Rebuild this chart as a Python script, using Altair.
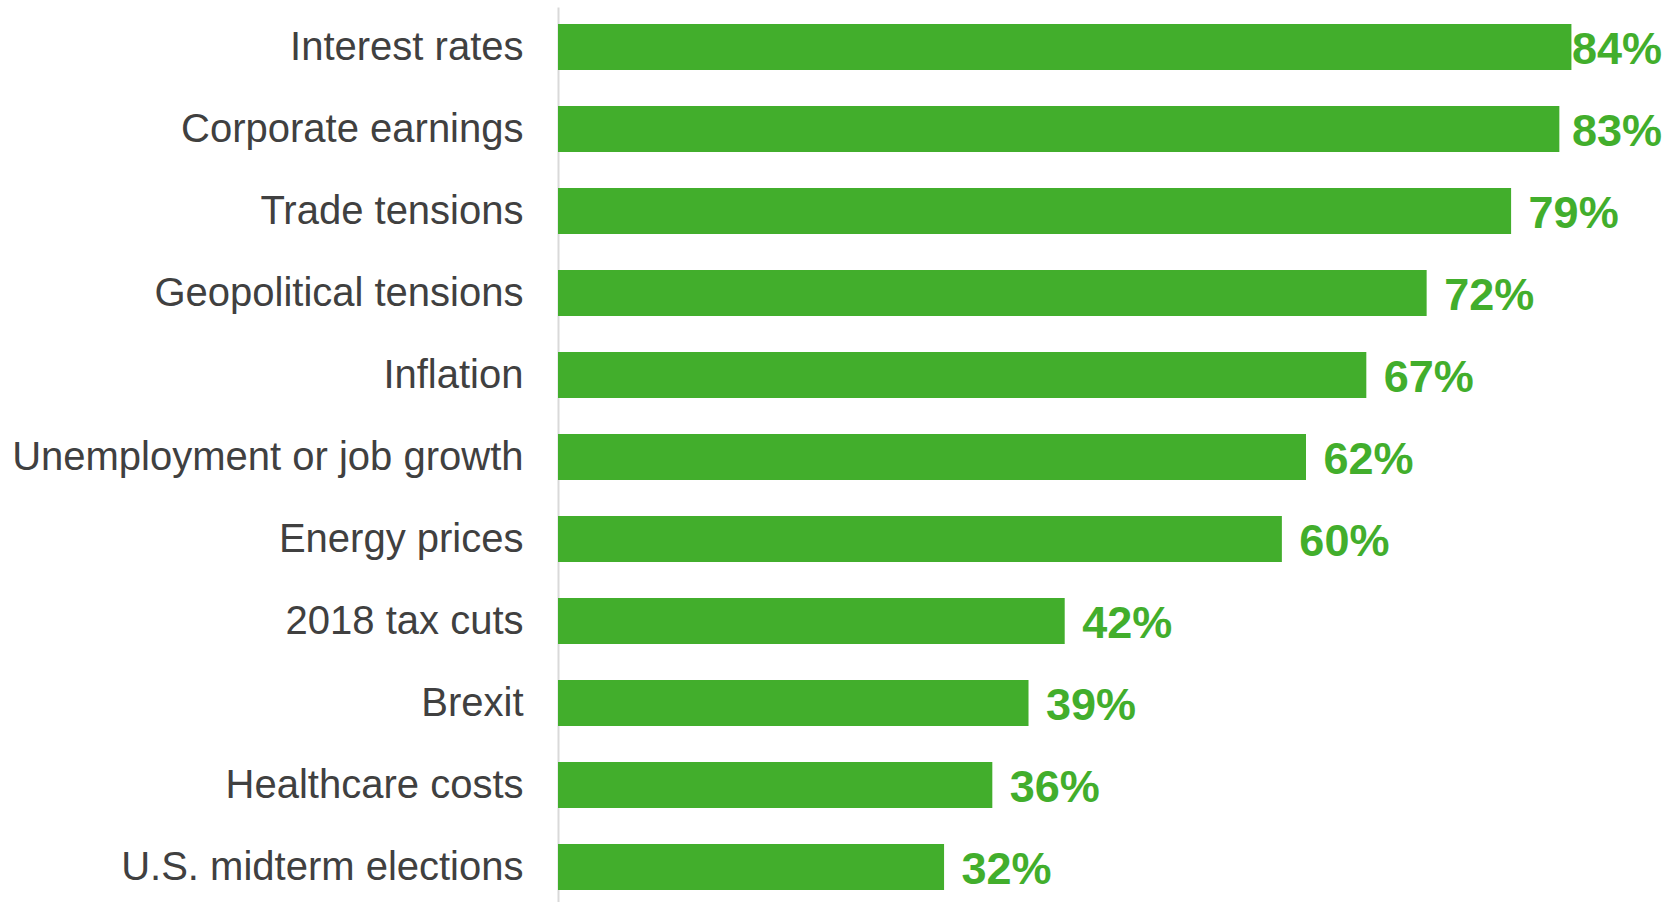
import altair as alt
import pandas as pd

categories = [
    "Interest rates",
    "Corporate earnings",
    "Trade tensions",
    "Geopolitical tensions",
    "Inflation",
    "Unemployment or job growth",
    "Energy prices",
    "2018 tax cuts",
    "Brexit",
    "Healthcare costs",
    "U.S. midterm elections",
]
values = [84, 83, 79, 72, 67, 62, 60, 42, 39, 36, 32]

df = pd.DataFrame({"category": categories, "value": values})
df["label"] = [f"{v}%" for v in values]

GREEN = "#42AE2C"

y_axis = alt.Axis(
    labelFont="Liberation Sans",
    labelFontSize=40,
    labelColor="#404040",
    labelPadding=35,
    labelOffset=1,
    ticks=False,
    tickSize=0,
    domainColor="#D9D9D9",
    domainWidth=2,
    labelLimit=0,
    grid=False,
)
y_scale = alt.Scale(paddingInner=0.439, paddingOuter=0.177, align=0.586)

x_scale = alt.Scale(domain=[0, 93], nice=False)

bars = alt.Chart(df).mark_bar(color=GREEN).encode(
    y=alt.Y("category:N", sort=categories, title=None, scale=y_scale, axis=y_axis),
    x=alt.X("value:Q", scale=x_scale, axis=None),
)

text = alt.Chart(df).transform_calculate(
    pos="min(datum.value + 1.45, 84.05)"
).mark_text(
    align="left",
    baseline="middle",
    font="Liberation Sans",
    fontSize=45,
    fontWeight="bold",
    color=GREEN,
    dy=3,
).encode(
    y=alt.Y("category:N", sort=categories, title=None, scale=y_scale, axis=y_axis),
    x=alt.X("pos:Q", scale=x_scale, axis=None),
    text="label:N",
)

chart = (
    alt.layer(bars, text)
    .properties(
        width=1122,
        height=895,
        autosize=alt.AutoSizeParams(type="none"),
        padding={"left": 558, "top": 7, "right": 0, "bottom": 0},
        view=alt.ViewBackground(stroke="transparent", strokeOpacity=0, strokeWidth=0),
    )
    .configure_view(stroke="transparent", strokeOpacity=0, strokeWidth=0)
    .configure_axis(grid=False)
    .configure(background="white")
)

chart.save("out.html", embed_options={"renderer": "svg", "actions": False})
